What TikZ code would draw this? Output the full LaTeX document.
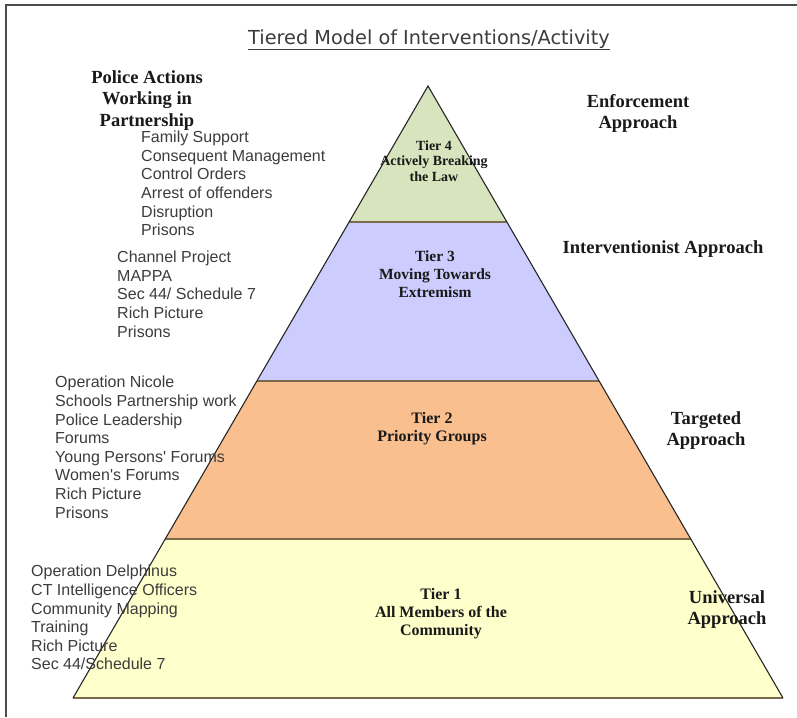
\documentclass[tikz,border=0pt]{standalone}
\usepackage{fontspec}
\setmainfont{Liberation Serif}
\newfontfamily\listfont{Liberation Sans}
\newfontfamily\titlefont{DejaVu Sans}
\definecolor{tierfour}{HTML}{D7E4BD}
\definecolor{tierthree}{HTML}{CCCCFF}
\definecolor{tiertwo}{HTML}{FABF8F}
\definecolor{tierone}{HTML}{FFFFCC}
\definecolor{divline}{HTML}{7A6A4A}
\definecolor{inkgray}{HTML}{3C3C3C}

\begin{document}
\begin{tikzpicture}[x=1pt, y=-1pt, every node/.style={inner sep=0pt}]
\tikzset{
  tierlabel/.style={font=\bfseries\fontsize{16}{18}\selectfont, align=center, anchor=north, text=black!90},
  heading/.style={font=\bfseries\fontsize{18.5}{21.5}\selectfont, align=center, anchor=north, text=black!90},
  itemlist/.style={font=\listfont\fontsize{16}{18.6}\selectfont, align=left, anchor=north west, text=inkgray},
  divider/.style={draw=divline, line width=1.6pt},
  side/.style={draw=black!85, line width=1.1pt}
}
\useasboundingbox (0,0) rectangle (797,717);

% frame
\draw[line width=1.8pt, black!70] (6,717) -- (6,5) -- (797,5);

% title
\node (title) [font=\titlefont\fontsize{19.3}{22}\selectfont, text=inkgray, anchor=base] at (429,45) {Tiered Model of Interventions/Activity};
\draw[inkgray, line width=0.9pt] ([yshift=-4pt]title.base west) -- ([yshift=-4pt]title.base east);

% pyramid
\coordinate (apex) at (428,86);
\coordinate (l4) at (349.1,222);
\coordinate (r4) at (506.9,222);
\coordinate (l3) at (257,381);
\coordinate (r3) at (599,381);
\coordinate (l2) at (165.2,539);
\coordinate (r2) at (690.8,539);
\coordinate (l1) at (73,698);
\coordinate (r1) at (783,698);

\fill[tierfour] (apex) -- (r4) -- (l4) -- cycle;
\fill[tierthree] (l4) -- (r4) -- (r3) -- (l3) -- cycle;
\fill[tiertwo] (l3) -- (r3) -- (r2) -- (l2) -- cycle;
\fill[tierone] (l2) -- (r2) -- (r1) -- (l1) -- cycle;

\draw[divider] (l4) -- (r4);
\draw[divider] (l3) -- (r3);
\draw[divider] (l2) -- (r2);
\draw[divider] (l1) -- (r1);
\draw[side] (l1) -- (apex) -- (r1);

% tier texts
\node (tier4) [tierlabel, font=\bfseries\fontsize{14}{15.5}\selectfont] at (434,140.5) {Tier 4\\Actively Breaking\\the Law};
\node (tier3) [tierlabel, font=\bfseries\fontsize{15.5}{18}\selectfont] at (435,251) {Tier 3\\Moving Towards\\Extremism};
\node (tier2) [tierlabel] at (432,412) {Tier 2\\Priority Groups};
\node (tier1) [tierlabel] at (441,588) {Tier 1\\All Members of the\\Community};

% approaches
\node (enforce) [heading] at (638,94) {Enforcement\\Approach};
\node (intervene) [heading] at (663,240) {Interventionist Approach};
\node (targeted) [heading] at (706,411) {Targeted\\Approach};
\node (universal) [heading] at (727,590) {Universal\\Approach};

% police actions
\node (police) [heading] at (147,70) {Police Actions\\Working in\\Partnership};
\node (famlist) [itemlist] at (141,131) {Family Support\\Consequent Management\\Control Orders\\Arrest of offenders\\Disruption\\Prisons};
\node (channellist) [itemlist] at (117,251) {Channel Project\\MAPPA\\Sec 44/ Schedule 7\\Rich Picture\\Prisons};
\node (nicolelist) [itemlist] at (55,376) {Operation Nicole\\Schools Partnership work\\Police Leadership\\Forums\\Young Persons' Forums\\Women's Forums\\Rich Picture\\Prisons};
\node (delphinuslist) [itemlist] at (31,565) {Operation Delphinus\\CT Intelligence Officers\\Community Mapping\\Training\\Rich Picture\\Sec 44/Schedule 7};
\end{tikzpicture}
\end{document}
